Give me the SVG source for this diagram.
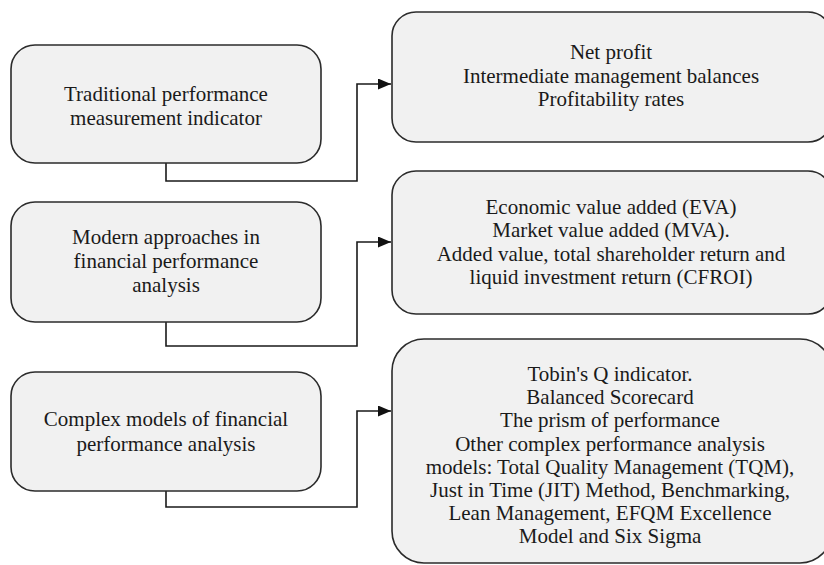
<svg xmlns="http://www.w3.org/2000/svg" width="824" height="565" viewBox="0 0 824 565">
<defs>
<style>
.box{fill:#f1f1f1;stroke:#2b2b2b;stroke-width:1.6}
.t{font-family:"Liberation Serif","Times New Roman",serif;font-size:21px;fill:#1a1a1a;text-anchor:middle}
.c{fill:none;stroke:#1a1a1a;stroke-width:1.6}
</style>
<marker id="ah" markerWidth="13" markerHeight="11" refX="13" refY="5.5" orient="auto" markerUnits="userSpaceOnUse">
<path d="M0,0 L13,5.5 L0,11 Z" fill="#111"/>
</marker>
</defs>
<rect width="824" height="565" fill="#fff"/>
<g id="connectors">
<path class="c" d="M166,163 V181 H357 V84 H391" marker-end="url(#ah)"/>
<path class="c" d="M166,322 V346 H357 V242 H391" marker-end="url(#ah)"/>
<path class="c" d="M166,491 V507 H357 V411 H391" marker-end="url(#ah)"/>
</g>
<g id="left1">
<rect class="box" x="11" y="45" width="310" height="118" rx="24"/>
<text class="t" x="166" y="101">Traditional performance</text>
<text class="t" x="166" y="125">measurement indicator</text>
</g>
<g id="left2">
<rect class="box" x="11" y="202" width="310" height="120" rx="24"/>
<text class="t" x="166" y="244">Modern approaches in</text>
<text class="t" x="166" y="268">financial performance</text>
<text class="t" x="166" y="292">analysis</text>
</g>
<g id="left3">
<rect class="box" x="11" y="372" width="310" height="119" rx="24"/>
<text class="t" x="166" y="426">Complex models of financial</text>
<text class="t" x="166" y="451">performance analysis</text>
</g>
<g id="right1">
<rect class="box" x="392" y="12" width="440" height="130" rx="24"/>
<text class="t" x="611" y="59">Net profit</text>
<text class="t" x="611" y="83">Intermediate management balances</text>
<text class="t" x="611" y="106">Profitability rates</text>
</g>
<g id="right2">
<rect class="box" x="392" y="171" width="440" height="143" rx="24"/>
<text class="t" x="611" y="214">Economic value added (EVA)</text>
<text class="t" x="611" y="237">Market value added (MVA).</text>
<text class="t" x="611" y="261">Added value, total shareholder return and</text>
<text class="t" x="611" y="284">liquid investment return (CFROI)</text>
</g>
<g id="right3">
<rect class="box" x="392" y="339" width="440" height="224" rx="32"/>
<text class="t" x="610" y="381">Tobin's Q indicator.</text>
<text class="t" x="610" y="404">Balanced Scorecard</text>
<text class="t" x="610" y="427">The prism of performance</text>
<text class="t" x="610" y="451">Other complex performance analysis</text>
<text class="t" x="610" y="474">models: Total Quality Management (TQM),</text>
<text class="t" x="610" y="497">Just in Time (JIT) Method, Benchmarking,</text>
<text class="t" x="610" y="520">Lean Management, EFQM Excellence</text>
<text class="t" x="610" y="543">Model and Six Sigma</text>
</g>
</svg>
